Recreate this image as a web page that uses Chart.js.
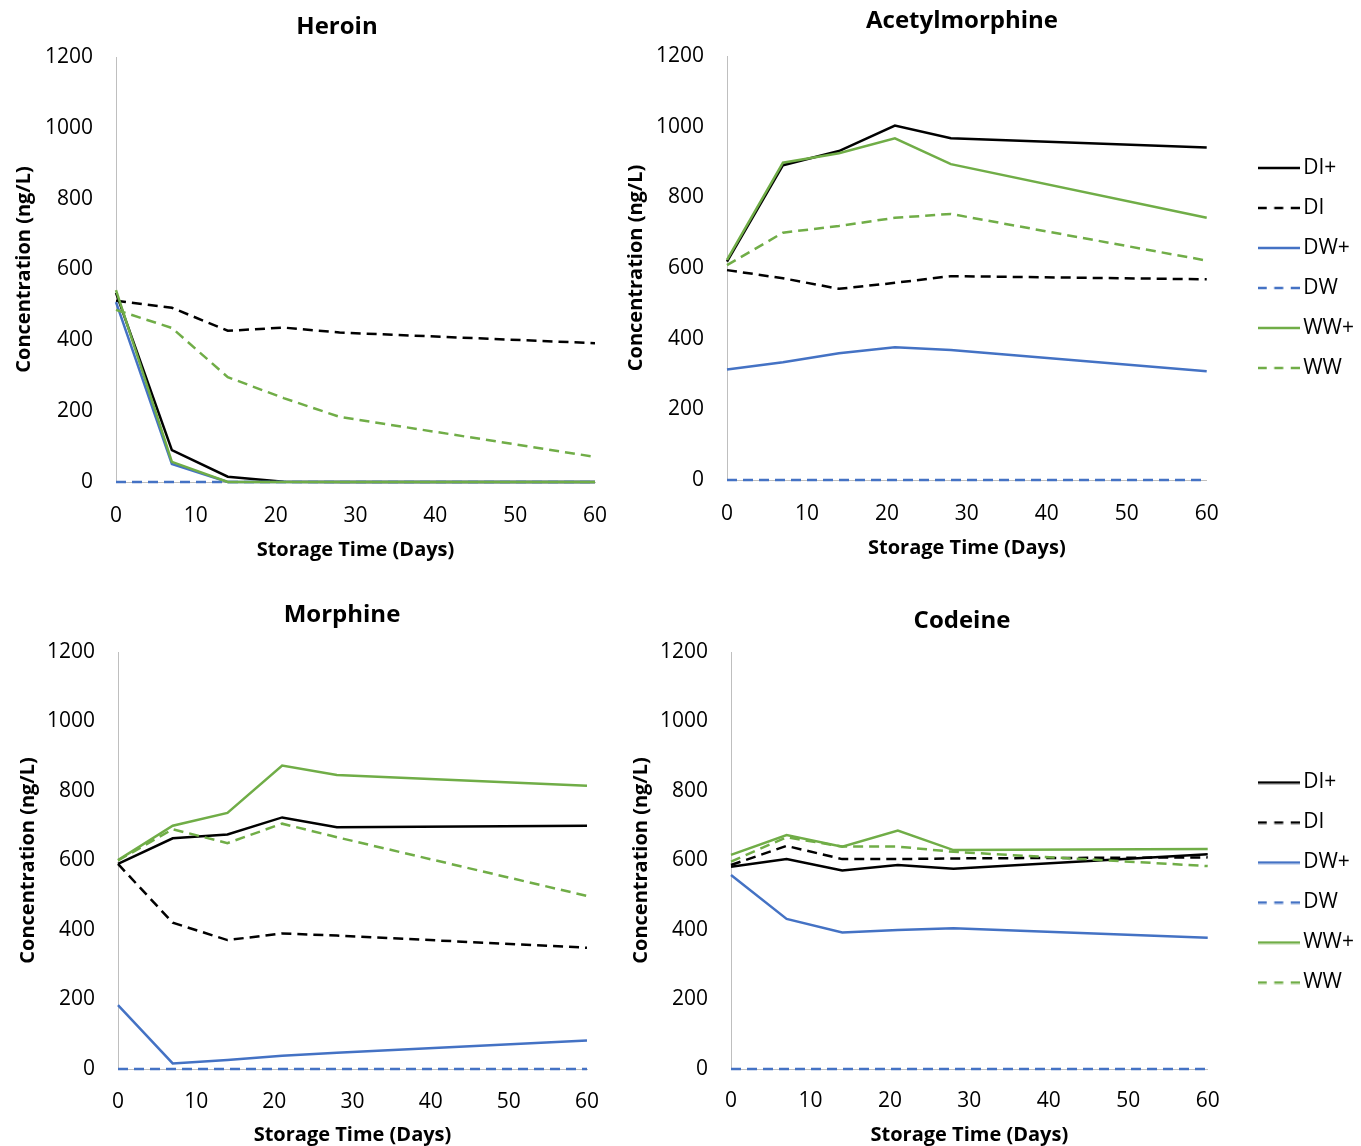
<!DOCTYPE html>
<html>
<head>
<meta charset="utf-8">
<script src="https://cdn.jsdelivr.net/npm/chart.js@4.4.0/dist/chart.umd.min.js"></script>
<style>
  body { margin: 0; background: #fff; overflow: hidden; width: 1361px; height: 1146px; position: relative; }
  canvas { position: absolute; }
</style>
</head>
<body>
<canvas id="heroin"></canvas>
<canvas id="acetyl"></canvas>
<canvas id="morphine"></canvas>
<canvas id="codeine"></canvas>
<script>
// storage time (days) and series names
const days = [0, 7, 14, 21, 28, 60];
const seriesNames = ['DI+', 'DI', 'DW+', 'DW', 'WW+', 'WW'];

// Heroin (ng/L)
const heroinDIplus = [534, 90, 15, 1, 0, 0];
const heroinDI = [512, 492, 427, 436, 422, 392];
const heroinDWplus = [508, 51, 0, 0, 0, 0];
const heroinDW = [0, 0, 0, 0, 0, 0];
const heroinWWplus = [542, 57, 0, 0, 0, 0];
const heroinWW = [486, 435, 296, 237, 184, 71];

// Acetylmorphine (ng/L)
const acetylDIplus = [618, 891, 931, 1003, 967, 941];
const acetylDI = [594, 571, 541, 558, 577, 568];
const acetylDWplus = [313, 333, 359, 376, 368, 308];
const acetylDW = [0, 0, 0, 0, 0, 0];
const acetylWWplus = [623, 898, 925, 967, 894, 742];
const acetylWW = [608, 700, 719, 742, 753, 621];

// Morphine (ng/L)
const morphineDIplus = [590, 664, 675, 724, 696, 700];
const morphineDI = [590, 421, 371, 390, 384, 349];
const morphineDWplus = [184, 16, 26, 38, 47, 82];
const morphineDW = [0, 0, 0, 0, 0, 0];
const morphineWWplus = [601, 700, 737, 873, 846, 815];
const morphineWW = [600, 690, 650, 706, 667, 498];

// Codeine (ng/L)
const codeineDIplus = [582, 604, 571, 587, 576, 618];
const codeineDI = [587, 642, 604, 604, 606, 609];
const codeineDWplus = [558, 432, 393, 400, 405, 378];
const codeineDW = [0, 0, 0, 0, 0, 0];
const codeineWWplus = [616, 673, 640, 686, 630, 633];
const codeineWW = [597, 667, 640, 640, 625, 584];

const xTickStep = 10;
const yMax = 1200;
const yTickStep = 200;

const BLACK = '#000000';
const BLUE = '#4472C4';
const GREEN = '#70AD47';
const AXIS = '#BFBFBF';
const FONT = '"Open Sans", "Noto Sans", sans-serif';
const LEGEND_FONT = 21;
const LEGEND_PAD = 19;
const LEGEND_BOX = 28;

const seriesColors = [BLACK, BLACK, BLUE, BLUE, GREEN, GREEN];
const seriesDashed = [false, true, false, true, false, true];

// little line sample used as the legend symbol
function legendLine(color, dashed) {
  const c = document.createElement('canvas');
  c.width = 42;
  c.height = 4;
  const ctx = c.getContext('2d');
  ctx.strokeStyle = color;
  ctx.lineWidth = 2.5;
  ctx.setLineDash(dashed ? [9, 7.5] : []);
  ctx.beginPath();
  ctx.moveTo(0, 2);
  ctx.lineTo(42, 2);
  ctx.stroke();
  return c;
}

// width Chart.js will give the legend column
function legendWidth() {
  const ctx = document.createElement('canvas').getContext('2d');
  ctx.font = LEGEND_FONT + 'px ' + FONT;
  const maxText = Math.max(...seriesNames.map(n => ctx.measureText(n).width));
  return LEGEND_PAD + LEGEND_BOX + LEGEND_FONT / 2 + maxText + 10;
}

function makeDatasets(list) {
  return list.map((values, i) => ({
    label: seriesNames[i],
    data: values.map((v, j) => ({ x: days[j], y: v })),
    borderColor: seriesColors[i],
    backgroundColor: seriesColors[i],
    borderWidth: 2.5,
    borderDash: seriesDashed[i] ? [10, 6] : [],
    pointRadius: 0,
    pointStyle: legendLine(seriesColors[i], seriesDashed[i]),
    tension: 0,
    clip: false,
    order: list.length - i,   // later series drawn on top, like the original
    yAxisID: 'y'
  }));
}

function makeChart(id, box, title, list) {
  const canvas = document.getElementById(id);
  canvas.width = box.w;
  canvas.height = box.h;
  canvas.style.left = box.left + 'px';
  canvas.style.top = box.top + 'px';

  return new Chart(canvas.getContext('2d'), {
    type: 'line',
    data: { datasets: makeDatasets(list) },
    options: {
      responsive: false,
      animation: false,
      layout: { padding: 0 },
      plugins: {
        title: {
          display: true,
          text: title,
          color: BLACK,
          font: { family: FONT, size: 24, weight: 'bold' },
          padding: { top: box.titleTop, bottom: box.titleBottom }
        },
        legend: {
          display: box.legend,
          position: 'right',
          fullSize: false,
          title: { display: box.legendShift > 0, text: '', font: { size: 10 }, padding: { top: box.legendShift / 2, bottom: box.legendShift / 2 - 12 } },
          labels: {
            usePointStyle: true,
            pointStyleWidth: LEGEND_BOX,
            padding: LEGEND_PAD,
            color: BLACK,
            font: { family: FONT, size: LEGEND_FONT },
            sort: (a, b) => a.datasetIndex - b.datasetIndex
          }
        },
        tooltip: { enabled: false }
      },
      scales: {
        x: {
          type: 'linear',
          min: 0,
          max: 60,
          grid: { drawOnChartArea: false, drawTicks: false },
          border: { color: AXIS, width: 1 },
          ticks: { stepSize: xTickStep, padding: box.xTickPad, color: BLACK, font: { family: FONT, size: 21 } },
          title: { display: true, text: 'Storage Time (Days)', color: BLACK, font: { family: FONT, size: 20, weight: 'bold' }, padding: { top: 0, bottom: 4 } },
          afterFit: s => { s.height = box.xH; }
        },
        y: {
          type: 'linear',
          position: 'left',
          min: 0,
          max: yMax,
          grid: { drawOnChartArea: false, drawTicks: false },
          border: { color: AXIS, width: 1 },
          ticks: { stepSize: yTickStep, padding: 23, color: BLACK, font: { family: FONT, size: 21 }, callback: v => String(v) },
          title: { display: true, text: 'Concentration (ng/L)', color: BLACK, font: { family: FONT, size: 20, weight: 'bold' }, padding: { top: box.yTitlePad, bottom: 0 } },
          afterFit: s => { s.width = box.yW; }
        },
        // empty spacer axis that keeps room on the right of the plot
        pad: {
          type: 'linear',
          axis: 'y',
          position: 'right',
          display: true,
          grid: { display: false },
          border: { display: false },
          ticks: { display: false },
          afterFit: s => { s.width = box.padW; }
        }
      }
    }
  });
}

window.addEventListener('load', function () {
  // right-hand panels: legend starts at 1246, title centred on 962
  const lw = legendWidth();
  const rightEdge = Math.round(1246 + lw);
  const rightLeft = 2 * 962 - rightEdge;
  const rightW = rightEdge - rightLeft;

  makeChart('heroin',
    { left: 0, top: 0, w: 674, h: 566, yW: 116, padW: 79, xH: 84, xTickPad: 21, yTitlePad: 12,
      titleTop: 12.6, titleBottom: 15.6, legend: false, legendShift: 0 },
    'Heroin',
    [heroinDIplus, heroinDI, heroinDWplus, heroinDW, heroinWWplus, heroinWW]);

  makeChart('acetyl',
    { left: rightLeft, top: 0, w: rightW, h: 564, yW: 727 - rightLeft, padW: 1246 - 1207, xH: 84, xTickPad: 21,
      yTitlePad: 636 - rightLeft - 12, titleTop: 7.2, titleBottom: 20, legend: true, legendShift: 0 },
    'Acetylmorphine',
    [acetylDIplus, acetylDI, acetylDWplus, acetylDW, acetylWWplus, acetylWW]);

  makeChart('morphine',
    { left: 0, top: 585, w: 684, h: 566, yW: 118, padW: 97, xH: 82, xTickPad: 20.5, yTitlePad: 16,
      titleTop: 15.4, titleBottom: 22.8, legend: false, legendShift: 0 },
    'Morphine',
    [morphineDIplus, morphineDI, morphineDWplus, morphineDW, morphineWWplus, morphineWW]);

  makeChart('codeine',
    { left: rightLeft, top: 585, w: rightW, h: 566, yW: 731 - rightLeft, padW: 1246 - 1208, xH: 82, xTickPad: 19.5,
      yTitlePad: 641 - rightLeft - 12, titleTop: 21.4, titleBottom: 16.8, legend: true, legendShift: 44 },
    'Codeine',
    [codeineDIplus, codeineDI, codeineDWplus, codeineDW, codeineWWplus, codeineWW]);
});
</script>
</body>
</html>
